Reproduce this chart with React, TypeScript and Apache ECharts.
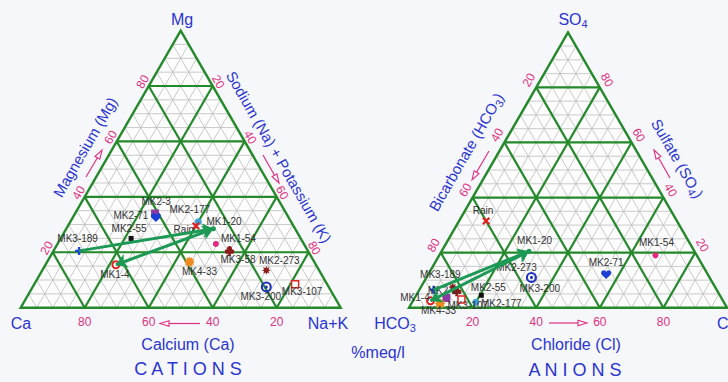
import React, { useEffect, useRef } from "react";
import * as echarts from "echarts";

// ---------------- data ----------------
const sampleNames = ["MK2-3", "MK2-71", "MK2-55", "MK3-189", "MK2-177", "Rain", "MK1-20", "MK1-54", "MK3-58", "MK4-33", "MK1-4", "MK2-273", "MK3-200", "MK3-107"];
// Cations, % meq/l
const caPct = [41, 41.5, 53, 71.5, 29, 30.5, 25.5, 27.5, 24.5, 39, 62.5, 16.5, 19.5, 10];
const mgPct = [34, 32.5, 25, 20.5, 31, 29.5, 28.5, 23, 20.5, 16.5, 15.5, 13.5, 7.5, 8.5];
const naKPct = [25, 26, 22, 8, 40, 40, 46, 49.5, 55, 44.5, 22, 70, 73, 81.5];
// Anions, % meq/l
const hco3Pct = [86.5, 32, 75, 89, 78, 60, 52, 13, 82, 89.5, 92, 82.5, 56, 82];
const so4Pct = [3.5, 12, 4.5, 6.5, 2, 31.5, 20.5, 19, 6, 1.5, 2.5, 7.5, 11, 3];
const clPct = [10, 56, 20.5, 4.5, 20, 8.5, 27.5, 68, 12, 9, 5.5, 10, 33, 15];

const tickValues = [20, 40, 60, 80];
const minorLevels = [5, 10, 15, 20, 25, 30, 35, 40, 45, 50, 55, 60, 65, 70, 75, 80, 85, 90, 95];
const majorLevels = [20, 40, 60, 80];

const arrowSingle = [["MK3-189", "MK1-20"]];
const arrowDouble = [["MK1-20", "MK1-4"]];

// ---------------- styles ----------------
const FONT = "'Liberation Sans', Arial, Helvetica, sans-serif";
const BLUE = "#2a34d2";
const PINK = "#e0307f";
const GREEN = "#24892a";
const GRAY = "#bdbdbd";
const ARROW_GREEN = "#1c9a55";
const SQ3 = Math.sqrt(3) / 2;

function tern(a: number, b: number, c: number): number[] {
  const s = a + b + c;
  return [((b + c / 2) / s) * 100, (c / s) * 100 * SQ3];
}

function starPath(n: number, rOut: number, rIn: number) {
  const pts: string[] = [];
  for (let i = 0; i < 2 * n; i++) {
    const ang = -Math.PI / 2 + (i * Math.PI) / n;
    const r = i % 2 ? rIn : rOut;
    pts.push((rOut + r * Math.cos(ang)).toFixed(2) + "," + (rOut + r * Math.sin(ang)).toFixed(2));
  }
  return "path://M" + pts.join(" L") + " Z";
}

const HEART = "path://M12,21 L3.5,12.5 C0,9 2,3 7,3 C9.5,3 11,4.5 12,6 C13,4.5 14.5,3 17,3 C22,3 24,9 20.5,12.5 Z";
const PLUS = "path://M3.5,0 H6.5 V3.5 H10 V6.5 H6.5 V10 H3.5 V6.5 H0 V3.5 H3.5 Z";
const CROSS = "path://M0,2 L2,0 L5,3 L8,0 L10,2 L7,5 L10,8 L8,10 L5,7 L2,10 L0,8 L3,5 Z";
const CLUB = "path://M5,0 A2.5,2.5 0 1,1 5,5 A2.5,2.5 0 1,1 5,0 Z M2.5,3.3 A2.4,2.4 0 1,1 2.5,8.1 A2.4,2.4 0 1,1 2.5,3.3 Z M7.5,3.3 A2.4,2.4 0 1,1 7.5,8.1 A2.4,2.4 0 1,1 7.5,3.3 Z M4.4,5 L5.6,5 L6.6,10 L3.4,10 Z";
const BULLSEYE = "path://M5,0 A5,5 0 1,1 5,10 A5,5 0 1,1 5,0 Z M5,1.9 A3.1,3.1 0 1,0 5,8.1 A3.1,3.1 0 1,0 5,1.9 Z M5,3.6 A1.4,1.4 0 1,1 5,6.4 A1.4,1.4 0 1,1 5,3.6 Z";
const SUN = starPath(12, 5, 3.4);
const STAR = starPath(8, 5, 2.6);

const markerStyles: Record<string, any> = {
  "MK2-3": { symbol: "rect", size: 8, color: "#8a3aa0" },
  "MK2-71": { symbol: HEART, size: 10, color: "#1c3fd6" },
  "MK2-55": { symbol: "rect", size: 5, color: "#111111" },
  "MK3-189": { symbol: PLUS, size: 8, color: "#1f3fe0" },
  "MK2-177": { symbol: "circle", size: 7, color: "#39a0d8" },
  Rain: { symbol: CROSS, size: 8, color: "#e02424" },
  "MK1-20": { symbol: "circle", size: 5, color: ARROW_GREEN },
  "MK1-54": { symbol: "circle", size: 6, color: "#e8287f" },
  "MK3-58": { symbol: CLUB, size: 10, color: "#8e1c1c" },
  "MK4-33": { symbol: SUN, size: 11, color: "#f08a1e" },
  "MK1-4": { symbol: "circle", size: 7, color: "#ffffff", border: "#e02424", bw: 2 },
  "MK2-273": { symbol: STAR, size: 9, color: "#8e1c1c" },
  "MK3-200": { symbol: BULLSEYE, size: 11, color: "#1f2fc0" },
  "MK3-107": { symbol: "rect", size: 7, color: "#ffffff", border: "#e02424", bw: 1.5 },
};

// label offsets (px, label centre relative to marker)
const catLabelOffsets: Record<string, number[] | null> = {
  "MK2-3": [1, -12], "MK2-71": [-25, -2], "MK2-55": [-2, -10], "MK3-189": [-1.5, -12],
  "MK2-177": [-8.5, -12], Rain: [-12, 3.5], "MK1-20": [10.5, -7.6], "MK1-54": [22.5, -5],
  "MK3-58": [8.5, 9], "MK4-33": [10, 9.5], "MK1-4": [-1, 10], "MK2-273": [13, -10],
  "MK3-200": [-5.5, 9.5], "MK3-107": [7, 7],
};
const anLabelOffsets: Record<string, number[] | null> = {
  "MK2-3": [-4, -8], "MK2-71": [0, -12.3], "MK2-55": [7, -7.7], "MK3-189": [6.7, -15],
  "MK2-177": [25.5, 1.6], Rain: [-3, -10.5], "MK1-20": [5.5, -11], "MK1-54": [1, -12.5],
  "MK3-58": null, "MK4-33": [-1.5, 7.4], "MK1-4": [-15.5, -3.4], "MK2-273": [63.7, -19.7],
  "MK3-200": [8.3, 11], "MK3-107": [6.3, 5.7],
};

const triCfg = [
  {
    grid: { left: 20.7, top: 307.7 - 320 * SQ3, width: 320, height: 320 * SQ3 },
    point: (i: number) => tern(caPct[i], naKPct[i], mgPct[i]),
    bottomAt: (t: number) => tern(t, 100 - t, 0),
    leftAt: (t: number) => tern(100 - t, 0, t),
    rightAt: (t: number) => tern(0, t, 100 - t),
    leftOff: [-6, -4.2],
    rightOff: [5.5, -4.2],
    labelOffsets: catLabelOffsets,
  },
  {
    grid: { left: 409, top: 307.7 - 318 * SQ3, width: 318, height: 318 * SQ3 },
    point: (i: number) => tern(hco3Pct[i], clPct[i], so4Pct[i]),
    bottomAt: (t: number) => tern(100 - t, t, 0),
    leftAt: (t: number) => tern(t, 0, 100 - t),
    rightAt: (t: number) => tern(0, 100 - t, t),
    leftOff: [-7.3, -7.5],
    rightOff: [7.2, -7.5],
    labelOffsets: anLabelOffsets,
  },
];

function levelLines(p: number) {
  return [
    [tern(100 - p, 0, p), tern(0, 100 - p, p)],
    [tern(100 - p, p, 0), tern(0, p, 100 - p)],
    [tern(p, 100 - p, 0), tern(p, 0, 100 - p)],
  ];
}

function textStyle(text: string, size: number, color: string, extra: any = {}) {
  return {
    text,
    fill: color,
    font: `${size}px ${FONT}`,
    textAlign: "center",
    textVerticalAlign: "middle",
    align: "center",
    verticalAlign: "middle",
    ...extra,
  };
}

function buildSeries() {
  const series: any[] = [];
  triCfg.forEach((cfg, ti) => {
    const axis = { xAxisIndex: ti, yAxisIndex: ti };
    const triangle = [tern(100, 0, 0), tern(0, 100, 0), tern(0, 0, 100)];
    series.push({
      type: "custom", ...axis, z: 1, silent: true, clip: false, data: [[0, 0]],
      renderItem: (_p: any, api: any) => ({
        type: "polygon",
        shape: { points: triangle.map((v) => api.coord(v)) },
        style: { fill: "rgba(255,255,255,0.75)", stroke: "none" },
      }),
    });
    const gridSeries = (levels: number[], color: string, width: number, z: number) => ({
      type: "custom", ...axis, z, silent: true, clip: false,
      data: levels.map((p) => [p, 0]),
      renderItem: (_p: any, api: any) => {
        const p = api.value(0);
        return {
          type: "group",
          children: levelLines(p).map(([s, e]) => {
            const a = api.coord(s);
            const b = api.coord(e);
            return { type: "line", shape: { x1: a[0], y1: a[1], x2: b[0], y2: b[1] }, style: { stroke: color, lineWidth: width } };
          }),
        };
      },
    });
    series.push(gridSeries(minorLevels, GRAY, 0.8, 2));
    series.push(gridSeries(majorLevels, GREEN, 2.2, 3));
    series.push({
      type: "custom", ...axis, z: 3, silent: true, clip: false, data: [[0, 0]],
      renderItem: (_p: any, api: any) => ({
        type: "polygon",
        shape: { points: triangle.map((v) => api.coord(v)) },
        style: { fill: "none", stroke: GREEN, lineWidth: 2.4, lineJoin: "miter" },
      }),
    });
    series.push({
      type: "custom", ...axis, z: 4, silent: true, clip: false,
      data: tickValues.map((t) => [t, 0]),
      renderItem: (_p: any, api: any) => {
        const t = api.value(0);
        const mk = (pt: number[], off: number[], rot: number) => {
          const c = api.coord(pt);
          return { type: "text", x: c[0] + off[0], y: c[1] + off[1], rotation: rot, style: textStyle(String(t), 12, PINK) };
        };
        return {
          type: "group",
          children: [mk(cfg.bottomAt(t), [0, 14], 0), mk(cfg.leftAt(t), cfg.leftOff, Math.PI / 3), mk(cfg.rightAt(t), cfg.rightOff, -Math.PI / 3)],
        };
      },
    });
    series.push({
      type: "scatter", ...axis, z: 6, silent: true, clip: false, symbolKeepAspect: true,
      label: {
        show: true, position: "inside", formatter: "{b}", color: "#333333", fontSize: 10,
        fontFamily: FONT, textBorderWidth: 0, textBorderColor: "transparent",
      },
      data: sampleNames.map((name, i) => {
        const m = markerStyles[name];
        const off = cfg.labelOffsets[name];
        return {
          name,
          value: cfg.point(i),
          symbol: m.symbol,
          symbolSize: m.size,
          itemStyle: { color: m.color, borderColor: m.border || m.color, borderWidth: m.bw || 0, opacity: 1 },
          label: off ? { show: true, offset: off } : { show: false },
        };
      }),
    });
    const idx = (n: string) => sampleNames.indexOf(n);
    const linesSeries = (pairs: string[][], symbol: string[]) => ({
      type: "lines", coordinateSystem: "cartesian2d", ...axis, z: 7, silent: true,
      symbol, symbolSize: 11,
      lineStyle: { color: ARROW_GREEN, width: 3, opacity: 1, curveness: 0 },
      data: pairs.map(([f, t]) => ({ coords: [cfg.point(idx(f)), cfg.point(idx(t))] })),
    });
    series.push(linesSeries(arrowSingle, ["none", "arrow"]));
    series.push(linesSeries(arrowDouble, ["arrow", "arrow"]));
  });
  return series;
}

function T(text: string, x: number, y: number, size: number, rot = 0, extra: any = {}) {
  return { type: "text", x, y, rotation: rot, z: 10, silent: true, style: textStyle(text, size, BLUE, extra) };
}

function richSub(main: string, sub: string, tail: string, size: number) {
  return {
    text: `{n|${main}}{s|${sub}}` + (tail ? `{n|${tail}}` : ""),
    rich: {
      n: { fontSize: size, fontFamily: FONT, fill: BLUE, lineHeight: size + 5 },
      s: { fontSize: Math.round(size * 0.7), fontFamily: FONT, fill: BLUE, lineHeight: Math.round(size * 0.7) + 1, verticalAlign: "bottom" },
    },
  };
}

function pinkArrow(x1: number, y1: number, x2: number, y2: number) {
  const dx = x2 - x1;
  const dy = y2 - y1;
  const L = Math.hypot(dx, dy);
  const ux = dx / L;
  const uy = dy / L;
  const bx = x2 - ux * 9;
  const by = y2 - uy * 9;
  return {
    type: "group", z: 10, silent: true,
    children: [
      { type: "line", shape: { x1, y1, x2: bx, y2: by }, style: { stroke: PINK, lineWidth: 1.2 } },
      {
        type: "polygon",
        shape: { points: [[x2, y2], [bx - uy * 2.8, by + ux * 2.8], [bx + uy * 2.8, by - ux * 2.8]] },
        style: { fill: "none", stroke: PINK, lineWidth: 1.1 },
      },
    ],
  };
}

function buildGraphic() {
  const R60 = Math.PI / 3;
  return [
    // cations
    T("Mg", 182, 19, 16),
    T("Ca", 21, 323, 16),
    T("Na+K", 328, 323, 16),
    T("Calcium (Ca)", 188, 344, 16),
    T("C A T I O N S", 188, 369, 18),
    T("Magnesium (Mg)", 85, 147, 15, R60),
    T("Sodium (Na) + Potassium (K)", 279, 157, 15, -R60),
    T("%meq/l", 378, 352, 16),
    // anions
    T("", 573, 19, 16, 0, richSub("SO", "4", "", 16)),
    T("", 395, 323, 16, 0, richSub("HCO", "3", "", 16)),
    { type: "text", x: 717, y: 323, z: 10, silent: true, style: { ...textStyle("Cl", 16, BLUE), textAlign: "left", align: "left" } },
    T("Chloride (Cl)", 576, 344, 16),
    T("A N I O N S", 575, 370, 18),
    T("", 466, 152, 15, R60, richSub("Bicarbonate (HCO", "3", ")", 15)),
    T("", 677.5, 158.5, 15, -R60, richSub("Sulfate (SO", "4", ")", 15)),
    // direction arrows
    pinkArrow(200, 323.5, 160, 323.5),
    pinkArrow(549, 323, 587, 323),
    pinkArrow(86, 177, 102, 150),
    pinkArrow(263, 155, 279, 183),
    pinkArrow(489, 151, 472, 180),
    pinkArrow(670, 178, 654, 150),
  ];
}

export default function App() {
  const ref = useRef<HTMLDivElement>(null);
  useEffect(() => {
    const chart = echarts.init(ref.current!, null, { renderer: "svg" });
    chart.setOption({
      animation: false,
      backgroundColor: "#f6f7fa",
      grid: triCfg.map((c) => ({ ...c.grid, show: false })),
      xAxis: triCfg.map((_c, i) => ({ type: "value", gridIndex: i, min: 0, max: 100, show: false })),
      yAxis: triCfg.map((_c, i) => ({ type: "value", gridIndex: i, min: 0, max: 100 * SQ3, show: false })),
      series: buildSeries(),
      graphic: buildGraphic(),
    });
    return () => chart.dispose();
  }, []);
  return <div ref={ref} style={{ position: "absolute", left: 0, top: 0, width: 728, height: 382 }} />;
}
